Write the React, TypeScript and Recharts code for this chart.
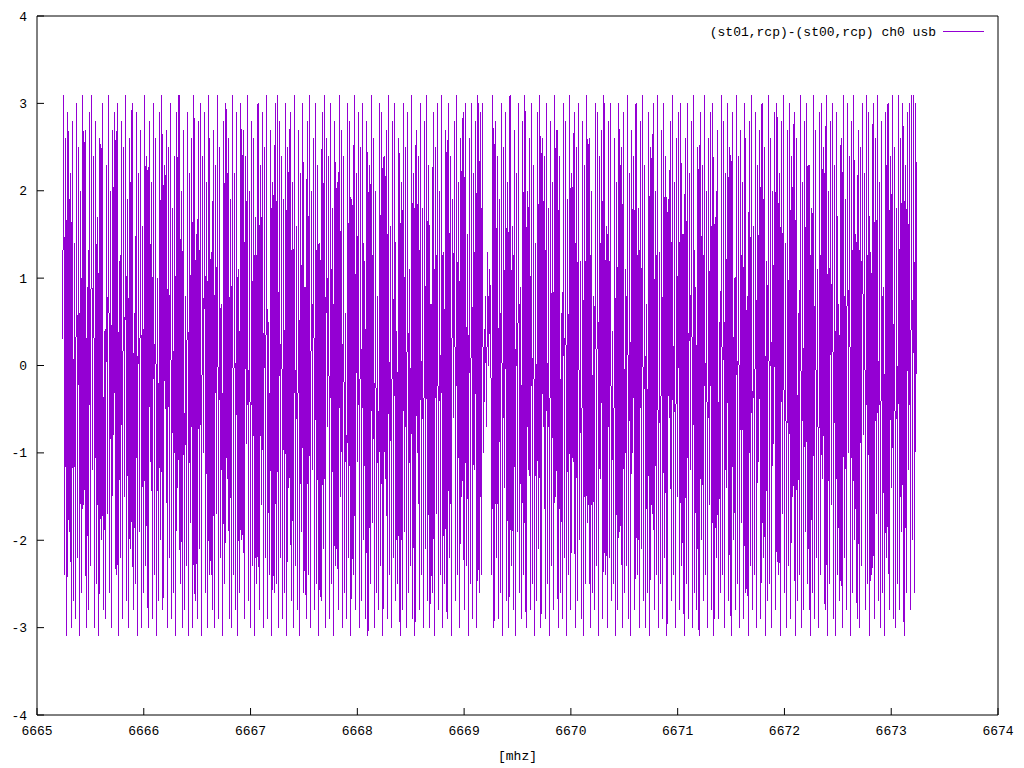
import React from "react";
import { Customized, Line, LineChart, XAxis, YAxis } from "recharts";

// channel frequencies start at FREQ_START and step by FREQ_STEP (MHz)
const FREQ_START = 6665.24;
const FREQ_STEP = 0.01;

// phase values per channel (radians)
const phase: number[] = [
  0.3, 3.1, -2.4, 2.6, -3.1, 2.9, -1.9, 2.2, -3.0, 2.8, -2.7, 1.4, -2.9, 3.0, -2.2, 2.5, -3.1, 2.0, -2.6, 3.1,
  -1.6, 2.7, -3.0, 0.9, -2.8, 2.9, -2.3, 3.1, -1.2, 2.4, -3.0, 2.8, -2.5, 1.7, -3.1, 2.6, -2.0, 3.0, -2.8, 0.4,
  -2.9, 2.3, -1.7, 3.1, -2.6, 2.0, -3.0, 2.7, -0.8, 2.9, -2.4, 3.0, -3.1, 1.2, -2.2, 2.8, -2.9, 2.5, -1.5, 3.1,
  -2.7, 1.9, -3.0, 2.6, -2.1, 3.0, -2.8, 0.6, -2.5, 2.9, -3.1, 2.2, -1.9, 2.7, -3.0, 1.6, -2.6, 3.1, -2.3, 2.4,
  -3.0, 2.8, -1.1, 2.1, -2.9, 3.0, -2.4, 2.6, -3.1, 1.0, -2.7, 2.9, -2.0, 3.1, -2.8, 2.3, -0.5, 2.7, -3.0, 2.5,
  -2.2, 3.0, -2.9, 1.8, -2.6, 2.4, -3.1, 2.9, -1.4, 3.1, -2.5, 2.0, -3.0, 2.7, -2.8, 0.8, -2.3, 2.9, -3.1, 2.2,
  -1.8, 2.6, -3.0, 3.1, -2.7, 1.5, -2.9, 2.8, -2.1, 3.0, -3.1, 2.4, -1.0, 2.9, -2.6, 2.1, -3.0, 3.1, -2.4, 1.3,
  -2.8, 2.7, -3.0, 2.3, -1.7, 3.1, -2.9, 2.5, -2.2, 0.7, -3.1, 2.8, -2.5, 3.0, -1.3, 2.6, -2.9, 1.9, -3.0, 3.1,
  -2.4, 2.2, -2.8, 2.9, -3.1, 1.1, -2.6, 3.0, -2.0, 2.7, -2.9, 2.4, -0.9, 3.1, -2.7, 2.0, -3.0, 2.8, -2.3, 2.6,
  -3.1, 1.7, -2.5, 3.0, -2.8, 2.3, -1.6, 2.9, -3.0, 2.5, -2.2, 3.1, -2.9, 0.5, -2.4, 2.7, -3.1, 2.1, -2.6, 3.0,
  -2.5, 3.1, -3.0, 2.8, -2.2, 2.4, -2.9, 1.9, -2.6, 3.0, -3.1, 2.5, -1.4, 2.9, -2.7, 2.1, -3.0, 3.1, -2.3, 1.6,
  -2.8, 2.7, -3.1, 2.2, -1.9, 3.0, -2.6, 0.9, -2.9, 2.8, -2.4, 3.1, -3.0, 2.0, -1.2, 2.6, -2.8, 3.0, -2.5, 2.3,
  -3.1, 1.4, -2.7, 2.9, -2.1, 3.1, -3.0, 2.6, -0.7, 2.4, -2.9, 3.0, -2.5, 1.8, -3.1, 2.8, -2.3, 2.1, -2.8, 3.1,
  -1.5, 2.7, -3.0, 2.4, -2.6, 0.6, -2.9, 3.0, -2.2, 2.8, -3.1, 1.9, -2.4, 3.1, -2.8, 2.2, -1.1, 2.9, -3.0, 2.5,
  -2.7, 3.0, -2.0, 1.2, -2.9, 2.8, -3.1, 2.3, -2.5, 3.1, -1.8, 2.6, -3.0, 2.0, -2.6, 0.8, -2.8, 3.0, -2.3, 2.9,
  -3.1, 2.4, -1.3, 2.7, -2.9, 3.1, -2.4, 1.6, -3.0, 2.8, -2.2, 3.0, -2.7, 0.4, -2.5, 2.6, -3.1, 2.1, -2.8, 3.0,
  -1.9, 2.5, -3.0, 2.9, -2.6, 1.1, -2.3, 3.1, -2.9, 2.2, -3.1, 2.7, -1.0, 2.4, -2.8, 3.0, -2.4, 1.8, -3.0, 2.8,
  -2.1, 3.1, -2.7, 2.3, -3.0, 0.7, -2.6, 2.9, -3.1, 2.5, -1.7, 3.0, -2.8, 2.0, -2.4, 3.1, -3.0, 1.3, -2.5, 2.7,
  -2.9, 3.0, -2.2, 2.4, -3.1, 1.9, -0.6, 2.8, -2.7, 3.1, -2.4, 2.1, -3.0, 2.6, -1.5, 2.9, -2.8, 3.0, -2.3, 1.5,
  -3.1, 2.6, -2.5, 3.0, -2.9, 2.2, -1.2, 2.8, -3.0, 3.1, -2.6, 2.9, -2.4, 3.0, -1.0, -0.1, 0.8, -0.7, 1.3, 0.0,
  1.1, 0.4, -2.4, 3.1, -3.0, 2.8, -2.2, 2.4, -2.9, 1.9, -2.6, 3.0, -3.1, 2.5, -1.4, 2.9, -2.7, 2.1, -3.0, 3.1,
  -2.3, 1.6, -2.8, 2.7, -3.1, 2.2, -1.9, 3.0, -2.6, 0.9, -2.9, 2.8, -2.4, 3.1, -3.0, 2.0, -1.2, 2.6, -2.8, 3.0,
  -2.5, 2.3, -3.1, 1.4, -2.7, 2.9, -2.1, 3.1, -3.0, 2.6, -0.7, 2.4, -2.9, 3.0, -2.5, 1.8, -3.1, 2.8, -2.3, 2.1,
  -2.8, 3.1, -1.5, 2.7, -3.0, 2.4, -2.6, 0.6, -2.9, 3.0, -2.2, 2.8, -3.1, 1.9, -2.4, 3.1, -2.8, 2.2, -1.1, 2.9,
  -3.0, 2.5, -2.7, 3.0, -2.0, 1.2, -2.9, 2.8, -3.1, 2.3, -2.5, 3.1, -1.8, 2.6, -3.0, 2.0, -2.6, 0.8, -2.8, 3.0,
  -2.3, 2.9, -3.1, 2.4, -1.3, 2.7, -2.9, 3.1, -2.4, 1.6, -3.0, 2.8, -2.2, 3.0, -2.7, 0.4, -2.5, 2.6, -3.1, 2.1,
  -2.8, 3.0, -1.9, 2.5, -3.0, 2.9, -2.6, 1.1, -2.3, 3.1, -2.9, 2.2, -3.1, 2.7, -1.0, 2.4, -2.8, 3.0, -2.4, 1.8,
  -3.0, 2.8, -2.1, 3.1, -2.7, 2.3, -3.0, 0.7, -2.6, 2.9, -3.1, 2.5, -1.7, 3.0, -2.8, 2.0, -2.4, 3.1, -3.0, 1.3,
  -2.5, 2.7, -2.9, 3.0, -2.2, 2.4, -3.1, 1.9, -0.6, 2.8, -2.7, 3.1, -2.4, 2.1, -3.0, 2.6, -1.5, 2.9, -2.8, 3.0,
  -2.3, 1.5, -3.1, 2.6, -2.5, 3.0, -2.9, 2.2, -1.2, 2.8, -3.0, 3.1, -2.6, 0.9, -2.8, 2.5, -3.1, 2.9, -2.0, 2.3,
  -2.7, 3.1, -2.4, 2.0, -3.0, 2.6, -1.6, 2.9, -2.8, 3.0, -3.1, 1.7, -2.2, 2.7, -2.9, 0.5, -2.6, 3.1, -2.4, 2.8,
  -3.0, 2.2, -1.4, 3.0, -2.7, 2.5, -3.1, 2.9, -2.0, 1.0, -2.8, 3.1, -2.5, 2.4, -3.0, 2.7, -1.8, 2.1, -2.9, 3.0,
  -2.6, 0.8, -3.1, 2.8, -2.3, 3.1, -2.8, 1.6, -2.4, 2.9, -3.0, 2.3, -1.1, 2.7, -2.9, 3.0, -2.2, 2.5, -3.1, 1.2,
  -2.7, 3.1, -2.5, 2.6, -3.0, 2.0, -0.9, 2.9, -2.8, 3.0, -2.4, 2.2, -3.1, 2.8, -1.7, 3.1, -2.6, 1.4, -3.0, 2.7,
  -2.3, 3.0, -2.9, 2.4, -1.5, 2.9, -3.1, 2.6, -2.7, 0.6, -2.4, 3.1, -3.0, 2.1, -2.8, 2.8, -1.9, 3.0, -2.5, 2.3,
  -3.1, 1.8, -2.6, 3.1, -2.9, 2.7, -2.2, 1.1, -3.0, 2.9, -2.4, 3.0, -1.3, 2.5, -2.8, 3.1, -3.1, 2.0, -2.5, 2.8,
  -1.6, 3.0, -2.9, 2.3, -3.1, 2.9, -2.4, 0.7, -2.7, 2.6, -3.0, 3.1, -2.2, 1.9, -2.8, 3.0, -1.0, 2.4, -3.1, 2.8,
  -2.6, 3.1, -2.0, 1.5, -2.9, 2.7, -3.0, 2.5, -2.3, 3.0, -0.8, 2.2, -2.8, 3.1, -2.5, 2.9, -3.1, 1.3, -2.4, 3.0,
  -2.9, 2.6, -1.7, 3.1, -2.7, 2.1, -3.0, 2.8, -2.6, 0.9, -3.1, 2.9, -2.2, 3.0, -2.8, 2.4, -1.4, 3.1, -2.9, 2.5,
  -3.0, 1.8, -2.5, 3.1, -2.8, 2.6, -1.9, 3.0, -3.1, 2.3, -2.6, 2.9, -1.2, 3.0, -2.8, 3.1, -2.0, 3.1, -2.6, 3.0,
  -0.1,
];

const xTicks = [6665, 6666, 6667, 6668, 6669, 6670, 6671, 6672, 6673, 6674];
const yTicks = [-4, -3, -2, -1, 0, 1, 2, 3, 4];
const seriesName = "(st01,rcp)-(st00,rcp) ch0 usb";

const data = phase.map((p, i) => ({
  freq: +(FREQ_START + i * FREQ_STEP).toFixed(3),
  phase: p,
}));

const FONT = "'Liberation Mono', 'DejaVu Sans Mono', monospace";
const TICK_LEN = 7;

const BottomTick = (props: any) => {
  const { x, y, payload } = props;
  return (
    <text x={x} y={y + 27} textAnchor="middle" fontFamily={FONT} fontSize={13} fill="#000">
      {payload.value}
    </text>
  );
};

const LeftTick = (props: any) => {
  const { x, y, payload } = props;
  return (
    <text x={x - 17} y={y + 4.5} textAnchor="end" fontFamily={FONT} fontSize={13} fill="#000">
      {payload.value}
    </text>
  );
};

const LegendKey = () => (
  <g>
    <text x={936} y={36} textAnchor="end" fontFamily={FONT} fontSize={13} fill="#000">
      {seriesName}
    </text>
    <line x1={943} x2={984} y1={31.5} y2={31.5} stroke="#9400D3" strokeWidth={1} />
  </g>
);

export default function App() {
  return (
    <div style={{ position: "absolute", left: 0, top: 0, background: "#fff" }}>
      <LineChart width={1024} height={768} data={data} margin={{ top: 15, right: 25, bottom: 0, left: 0 }}>
        <XAxis
          dataKey="freq"
          type="number"
          domain={[6665, 6674]}
          ticks={xTicks}
          interval={0}
          height={53}
          tickSize={-TICK_LEN}
          tickMargin={0}
          tick={<BottomTick />}
          tickLine={{ stroke: "#000" }}
          stroke="#000"
          label={{ value: "[mhz]", position: "insideBottom", offset: 8, fontFamily: FONT, fontSize: 13, fill: "#000" }}
        />
        <XAxis
          xAxisId="top"
          orientation="top"
          type="number"
          domain={[6665, 6674]}
          ticks={xTicks}
          interval={0}
          height={1}
          tickSize={-TICK_LEN}
          tick={false}
          tickLine={{ stroke: "#000" }}
          stroke="#000"
        />
        <YAxis
          type="number"
          domain={[-4, 4]}
          ticks={yTicks}
          interval={0}
          width={37}
          tickSize={-TICK_LEN}
          tickMargin={0}
          tick={<LeftTick />}
          tickLine={{ stroke: "#000" }}
          stroke="#000"
        />
        <YAxis
          yAxisId="right"
          orientation="right"
          type="number"
          domain={[-4, 4]}
          ticks={yTicks}
          interval={0}
          width={1}
          tickSize={-TICK_LEN}
          tick={false}
          tickLine={{ stroke: "#000" }}
          stroke="#000"
        />
        <Line
          dataKey="phase"
          type="linear"
          stroke="#9400D3"
          strokeWidth={1}
          shapeRendering="crispEdges"
          dot={false}
          activeDot={false}
          isAnimationActive={false}
        />
        <Customized component={LegendKey} />
      </LineChart>
    </div>
  );
}
